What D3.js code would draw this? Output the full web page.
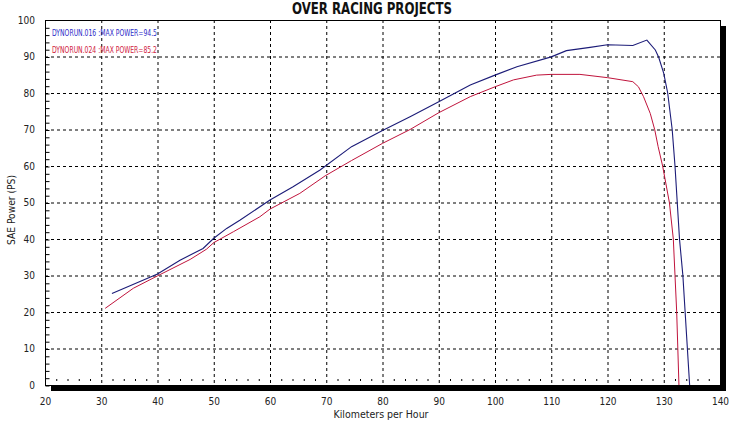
<!DOCTYPE html>
<html>
<head>
<meta charset="utf-8">
<script src="https://cdn.jsdelivr.net/npm/d3@7"></script>
<style>
  body { margin: 0; background: #fff; }
  svg text { font-family: 'DejaVu Sans Condensed', 'Liberation Sans Narrow', 'DejaVu Sans', sans-serif; font-stretch: condensed; }
</style>
</head>
<body>
<div id="chart"></div>
<script>
'use strict';

// run 016 (blue)
var blueSpeed = [31.9, 40, 44, 48.1, 50, 52.3, 54.7, 60, 64.1, 68.9, 74.5, 80, 84.9, 90, 95.6, 100, 103.9, 110, 112.7, 116.9, 120, 124.5, 127.0, 128.5, 129.1, 130, 130.7, 131.5, 132.0, 132.4, 132.8, 133.4, 133.8, 134.2, 134.6];
var bluePower = [25.1, 30.4, 34.2, 37.4, 40.2, 42.9, 45.2, 50.7, 54.3, 58.9, 65.3, 69.7, 73.5, 77.6, 82.2, 84.9, 87.2, 89.9, 91.6, 92.5, 93.2, 93.0, 94.5, 91.8, 89.8, 85.4, 80, 70, 60, 50, 40, 30, 20, 10, 0];

// run 024 (red)
var redSpeed = [30.7, 35.7, 40, 45.8, 48.7, 50, 53.5, 58.2, 60, 65.3, 69.8, 74.5, 80, 84.9, 90, 95.6, 100, 103.3, 107.4, 110, 115.1, 120, 124.5, 125.5, 126.4, 127.6, 128.4, 129.0, 129.8, 131.0, 131.7, 132.0, 132.3, 132.5, 132.7];
var redPower = [21.0, 26.5, 29.9, 34.4, 37.2, 39.0, 42.0, 46.1, 48.2, 52.5, 57.3, 61.5, 66.2, 70.0, 74.6, 79.0, 81.7, 83.6, 84.9, 85.1, 85.1, 84.2, 83.1, 81.7, 79.0, 74.4, 69.9, 65.3, 60, 50, 40, 30, 20, 10, 0];

var xTicks = [20, 30, 40, 50, 60, 70, 80, 90, 100, 110, 120, 130, 140];
var yTicks = [0, 10, 20, 30, 40, 50, 60, 70, 80, 90, 100];
var legendLabels = ['DYNORUN.016 :MAX POWER=94.5', 'DYNORUN.024 :MAX POWER=85.2'];

var width = 743;
var height = 422;
var margin = { top: 20, right: 23, bottom: 37, left: 45 };
var blue = '#1c1c78';
var red = '#c0143c';

function zip(xs, ys) {
    return xs.map(function (v, i) { return { x: v, y: ys[i] }; });
}

function drawChart() {
    let svg = d3.select('#chart').append('svg')
        .attr('width', width)
        .attr('height', height);

    let w = width - margin.left - margin.right;
    let h = height - margin.top - margin.bottom;

    let x = d3.scaleLinear().domain([20, 140]).range([0, w]);
    let y = d3.scaleLinear().domain([0, 100]).range([h, 0]);

    let g = svg.append('g')
        .attr('transform', 'translate(' + margin.left + ',' + margin.top + ')');

    // drop shadow on the right and bottom
    g.append('rect')
        .attr('x', 6).attr('y', h)
        .attr('width', w).attr('height', 6)
        .attr('fill', '#000');
    g.append('rect')
        .attr('x', w).attr('y', 6)
        .attr('width', 6).attr('height', h)
        .attr('fill', '#000');

    // grid
    g.selectAll('.vgrid')
        .data(xTicks.slice(1, -1))
        .enter().append('line')
        .attr('x1', d => x(d) + 0.5).attr('x2', d => x(d) + 0.5)
        .attr('y1', 0).attr('y2', h)
        .attr('stroke', '#000')
        .attr('stroke-dasharray', '3,3');
    g.selectAll('.hgrid')
        .data(yTicks.slice(1, -1))
        .enter().append('line')
        .attr('x1', 0).attr('x2', w)
        .attr('y1', d => y(d) + 0.5).attr('y2', d => y(d) + 0.5)
        .attr('stroke', '#000')
        .attr('stroke-dasharray', '3,3');

    // minor ticks
    g.append('g')
        .call(d3.axisLeft(y).tickValues(d3.range(0, 100, 2)).tickSize(-4).tickFormat(''))
        .call(a => a.select('.domain').remove())
        .attr('transform', 'translate(0.5,0.5)');
    g.selectAll('.xminor')
        .data(d3.range(22, 140, 2).filter(d => d % 10 != 0))
        .enter().append('line')
        .attr('x1', d => x(d) + 0.5).attr('x2', d => x(d) + 0.5)
        .attr('y1', h - 6).attr('y2', h - 4)
        .attr('stroke', '#000');

    // frame
    g.append('rect')
        .attr('x', 0.5).attr('y', 0.5)
        .attr('width', w).attr('height', h)
        .attr('fill', 'none')
        .attr('stroke', '#000');

    // tick labels
    g.append('g')
        .attr('transform', 'translate(0,' + h + ')')
        .call(d3.axisBottom(x).tickValues(xTicks).tickSize(0).tickPadding(13))
        .call(a => a.select('.domain').remove())
        .selectAll('text')
        .style('font-size', '10px')
        .attr('fill', '#222');
    g.append('g')
        .call(d3.axisLeft(y).tickValues(yTicks).tickSize(0).tickPadding(10))
        .call(a => a.select('.domain').remove())
        .selectAll('text')
        .style('font-size', '10px')
        .attr('fill', '#222');

    let line = d3.line()
        .x(function (d) { return x(d.x); })
        .y(function (d) { return y(d.y); });

    g.append('path')
        .datum(zip(redSpeed, redPower))
        .attr('fill', 'none')
        .attr('stroke', red)
        .attr('stroke-width', 1)
        .attr('d', line);
    g.append('path')
        .datum(zip(blueSpeed, bluePower))
        .attr('fill', 'none')
        .attr('stroke', blue)
        .attr('stroke-width', 1.1)
        .attr('d', line);

    // legend
    g.selectAll('.legend')
        .data(legendLabels)
        .enter().append('text')
        .attr('x', 7)
        .attr('y', (d, i) => 15.5 + i * 17.5)
        .style('font-size', '8.5px')
        .attr('fill', (d, i) => i == 0 ? '#2b2bc8' : '#d02040')
        .attr('textLength', 105)
        .attr('lengthAdjust', 'spacingAndGlyphs')
        .text(d => d);

    // titles
    svg.append('text')
        .attr('x', 372).attr('y', 14)
        .attr('text-anchor', 'middle')
        .style('font-size', '15px')
        .style('font-weight', 'bold')
        .attr('fill', '#111')
        .attr('textLength', 160)
        .attr('lengthAdjust', 'spacingAndGlyphs')
        .text('OVER RACING PROJECTS');
    svg.append('text')
        .attr('x', 381).attr('y', 418)
        .attr('text-anchor', 'middle')
        .style('font-size', '10px')
        .attr('fill', '#222')
        .attr('textLength', 95)
        .attr('lengthAdjust', 'spacingAndGlyphs')
        .text('Kilometers per Hour');
    svg.append('text')
        .attr('transform', 'translate(15,210) rotate(-90)')
        .attr('text-anchor', 'middle')
        .style('font-size', '10px')
        .attr('fill', '#222')
        .attr('textLength', 70)
        .attr('lengthAdjust', 'spacingAndGlyphs')
        .text('SAE Power (PS)');
}

drawChart();
</script>
</body>
</html>
